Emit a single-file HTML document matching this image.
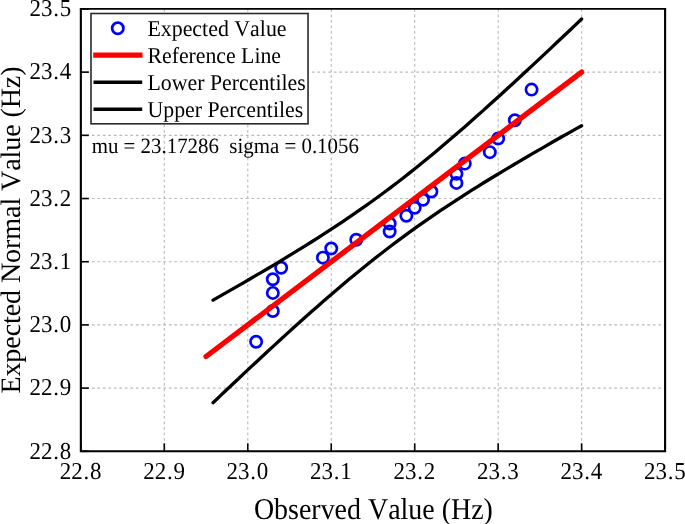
<!DOCTYPE html>
<html><head><meta charset="utf-8"><title>Normal probability plot</title>
<style>
html,body{margin:0;padding:0;background:#fff;}
svg{display:block;text-rendering:geometricPrecision;font-family:"Liberation Serif","Times New Roman",serif;fill:#000;}
.tk{font-size:24.3px;}
.ax{font-size:30.2px;font-kerning:none;}
.lg{font-size:22.7px;font-kerning:none;}
.mu{font-size:21.8px;}
.ay{font-size:28.1px;font-kerning:none;}
</style></head><body>
<svg width="685" height="524" viewBox="0 0 685 524">
<rect x="0" y="0" width="685" height="524" fill="#fff"/>
<g stroke="#b9b9b9" stroke-width="1.1" stroke-dasharray="2.7 2.8" fill="none">
<line x1="164.31" y1="8.95" x2="164.31" y2="451.30"/>
<line x1="247.78" y1="8.95" x2="247.78" y2="451.30"/>
<line x1="331.24" y1="8.95" x2="331.24" y2="451.30"/>
<line x1="414.71" y1="8.95" x2="414.71" y2="451.30"/>
<line x1="498.17" y1="8.95" x2="498.17" y2="451.30"/>
<line x1="581.64" y1="8.95" x2="581.64" y2="451.30"/>
<line x1="80.85" y1="388.11" x2="665.10" y2="388.11"/>
<line x1="80.85" y1="324.91" x2="665.10" y2="324.91"/>
<line x1="80.85" y1="261.72" x2="665.10" y2="261.72"/>
<line x1="80.85" y1="198.53" x2="665.10" y2="198.53"/>
<line x1="80.85" y1="135.34" x2="665.10" y2="135.34"/>
<line x1="80.85" y1="72.14" x2="665.10" y2="72.14"/>
</g>
<g stroke="#0000ff" stroke-width="2.7" fill="none">
<circle cx="256.13" cy="341.77" r="5.65"/>
<circle cx="272.82" cy="311.05" r="5.65"/>
<circle cx="272.82" cy="292.92" r="5.65"/>
<circle cx="272.82" cy="279.20" r="5.65"/>
<circle cx="281.16" cy="267.74" r="5.65"/>
<circle cx="322.90" cy="257.65" r="5.65"/>
<circle cx="331.24" cy="248.43" r="5.65"/>
<circle cx="356.28" cy="239.81" r="5.65"/>
<circle cx="389.67" cy="231.57" r="5.65"/>
<circle cx="389.67" cy="223.57" r="5.65"/>
<circle cx="406.36" cy="215.68" r="5.65"/>
<circle cx="414.71" cy="207.79" r="5.65"/>
<circle cx="423.05" cy="199.79" r="5.65"/>
<circle cx="431.40" cy="191.55" r="5.65"/>
<circle cx="456.44" cy="182.92" r="5.65"/>
<circle cx="456.44" cy="173.71" r="5.65"/>
<circle cx="464.79" cy="163.62" r="5.65"/>
<circle cx="489.82" cy="152.16" r="5.65"/>
<circle cx="498.17" cy="138.44" r="5.65"/>
<circle cx="514.86" cy="120.30" r="5.65"/>
<circle cx="531.56" cy="89.59" r="5.65"/>
</g>
<polyline points="213.06,402.68 219.20,396.84 225.34,391.02 231.49,385.22 237.63,379.43 243.77,373.66 249.92,367.91 256.06,362.18 262.20,356.47 268.34,350.79 274.49,345.13 280.63,339.50 286.77,333.89 292.92,328.32 299.06,322.79 305.20,317.29 311.34,311.83 317.49,306.41 323.63,301.04 329.77,295.72 335.92,290.44 342.06,285.22 348.20,280.06 354.35,274.96 360.49,269.92 366.63,264.95 372.77,260.04 378.92,255.20 385.06,250.44 391.20,245.74 397.35,241.11 403.49,236.56 409.63,232.08 415.78,227.66 421.92,223.32 428.06,219.04 434.20,214.82 440.35,210.66 446.49,206.56 452.63,202.52 458.78,198.53 464.92,194.58 471.06,190.69 477.21,186.83 483.35,183.02 489.49,179.24 495.63,175.50 501.78,171.79 507.92,168.12 514.06,164.47 520.21,160.84 526.35,157.24 532.49,153.66 538.63,150.11 544.78,146.57 550.92,143.05 557.06,139.55 563.21,136.06 569.35,132.59 575.49,129.13 581.64,125.69" fill="none" stroke="#000" stroke-width="3.3" stroke-linecap="round" stroke-linejoin="round"/>
<polyline points="213.06,300.11 219.20,296.63 225.34,293.14 231.49,289.64 237.63,286.11 243.77,282.57 249.92,279.01 256.06,275.43 262.20,271.83 268.34,268.21 274.49,264.56 280.63,260.88 286.77,257.17 292.92,253.43 299.06,249.66 305.20,245.85 311.34,242.00 317.49,238.11 323.63,234.18 329.77,230.19 335.92,226.16 342.06,222.07 348.20,217.93 354.35,213.73 360.49,209.46 366.63,205.13 372.77,200.73 378.92,196.27 385.06,191.73 391.20,187.13 397.35,182.45 403.49,177.70 409.63,172.88 415.78,168.00 421.92,163.05 428.06,158.03 434.20,152.95 440.35,147.80 446.49,142.61 452.63,137.35 458.78,132.05 464.92,126.69 471.06,121.29 477.21,115.85 483.35,110.37 489.49,104.85 495.63,99.29 501.78,93.71 507.92,88.09 514.06,82.45 520.21,76.78 526.35,71.08 532.49,65.37 538.63,59.63 544.78,53.87 550.92,48.10 557.06,42.31 563.21,36.50 569.35,30.68 575.49,24.84 581.64,19.00" fill="none" stroke="#000" stroke-width="3.3" stroke-linecap="round" stroke-linejoin="round"/>
<line x1="206.05" y1="356.51" x2="581.64" y2="72.14" stroke="#ff0000" stroke-width="5.3" stroke-linecap="round"/>
<path d="M80.85 8.95V451.30H665.10V8.95" fill="none" stroke="#000" stroke-width="2.1" stroke-linejoin="miter"/>
<line x1="79.80" y1="8.95" x2="666.15" y2="8.95" stroke="#000" stroke-width="1.8"/>
<g stroke="#000" stroke-width="1.6">
<line x1="80.85" y1="451.30" x2="80.85" y2="443.30"/>
<line x1="80.85" y1="451.30" x2="88.85" y2="451.30"/>
<line x1="164.31" y1="451.30" x2="164.31" y2="443.30"/>
<line x1="80.85" y1="388.11" x2="88.85" y2="388.11"/>
<line x1="247.78" y1="451.30" x2="247.78" y2="443.30"/>
<line x1="80.85" y1="324.91" x2="88.85" y2="324.91"/>
<line x1="331.24" y1="451.30" x2="331.24" y2="443.30"/>
<line x1="80.85" y1="261.72" x2="88.85" y2="261.72"/>
<line x1="414.71" y1="451.30" x2="414.71" y2="443.30"/>
<line x1="80.85" y1="198.53" x2="88.85" y2="198.53"/>
<line x1="498.17" y1="451.30" x2="498.17" y2="443.30"/>
<line x1="80.85" y1="135.34" x2="88.85" y2="135.34"/>
<line x1="581.64" y1="451.30" x2="581.64" y2="443.30"/>
<line x1="80.85" y1="72.14" x2="88.85" y2="72.14"/>
<line x1="665.10" y1="451.30" x2="665.10" y2="443.30"/>
<line x1="80.85" y1="8.95" x2="88.85" y2="8.95"/>
</g>
<g class="tk" text-anchor="middle">
<text transform="translate(80.55 479.4) scale(0.9456 1)">22<tspan dx="0.8">.</tspan><tspan dx="0.8">8</tspan></text>
<text transform="translate(164.01 479.4) scale(0.9456 1)">22<tspan dx="0.8">.</tspan><tspan dx="0.8">9</tspan></text>
<text transform="translate(247.48 479.4) scale(0.9456 1)">23<tspan dx="0.8">.</tspan><tspan dx="0.8">0</tspan></text>
<text transform="translate(330.94 479.4) scale(0.9456 1)">23<tspan dx="0.8">.</tspan><tspan dx="0.8">1</tspan></text>
<text transform="translate(414.41 479.4) scale(0.9456 1)">23<tspan dx="0.8">.</tspan><tspan dx="0.8">2</tspan></text>
<text transform="translate(497.87 479.4) scale(0.9456 1)">23<tspan dx="0.8">.</tspan><tspan dx="0.8">3</tspan></text>
<text transform="translate(581.34 479.4) scale(0.9456 1)">23<tspan dx="0.8">.</tspan><tspan dx="0.8">4</tspan></text>
<text transform="translate(664.80 479.4) scale(0.9456 1)">23<tspan dx="0.8">.</tspan><tspan dx="0.8">5</tspan></text>
</g>
<g class="tk" text-anchor="end">
<text transform="translate(71.3 458.60) scale(0.9456 1)">22<tspan dx="0.8">.</tspan><tspan dx="0.8">8</tspan></text>
<text transform="translate(71.3 395.41) scale(0.9456 1)">22<tspan dx="0.8">.</tspan><tspan dx="0.8">9</tspan></text>
<text transform="translate(71.3 332.21) scale(0.9456 1)">23<tspan dx="0.8">.</tspan><tspan dx="0.8">0</tspan></text>
<text transform="translate(71.3 269.02) scale(0.9456 1)">23<tspan dx="0.8">.</tspan><tspan dx="0.8">1</tspan></text>
<text transform="translate(71.3 205.83) scale(0.9456 1)">23<tspan dx="0.8">.</tspan><tspan dx="0.8">2</tspan></text>
<text transform="translate(71.3 142.64) scale(0.9456 1)">23<tspan dx="0.8">.</tspan><tspan dx="0.8">3</tspan></text>
<text transform="translate(71.3 79.44) scale(0.9456 1)">23<tspan dx="0.8">.</tspan><tspan dx="0.8">4</tspan></text>
<text transform="translate(71.3 16.25) scale(0.9456 1)">23<tspan dx="0.8">.</tspan><tspan dx="0.8">5</tspan></text>
</g>
<text class="ax" x="253.9" y="518.6" textLength="239" lengthAdjust="spacingAndGlyphs">Observed Value (Hz)</text>
<text class="ay" transform="translate(20.1 393.6) rotate(-90)" textLength="327.2" lengthAdjust="spacing">Expected Normal Value (Hz)</text>
<rect x="91" y="13.5" width="217.05" height="110.3" fill="#fff" stroke="#2a2a2a" stroke-width="1.6"/>
<circle cx="117.8" cy="28.3" r="5.65" fill="none" stroke="#0000ff" stroke-width="2.7"/>
<line x1="93.2" y1="55.1" x2="142.5" y2="55.1" stroke="#ff0000" stroke-width="5.4"/>
<line x1="93.5" y1="82.2" x2="142.2" y2="82.2" stroke="#000" stroke-width="3.4"/>
<line x1="93.5" y1="109.2" x2="142.2" y2="109.2" stroke="#000" stroke-width="3.4"/>
<g class="lg">
<text x="147.4" y="35.9" textLength="139.2" lengthAdjust="spacingAndGlyphs">Expected Value</text>
<text x="147.5" y="62.9" textLength="133.5" lengthAdjust="spacingAndGlyphs">Reference Line</text>
<text x="147.5" y="89.8" textLength="158.2" lengthAdjust="spacingAndGlyphs">Lower Percentiles</text>
<text x="147.5" y="116.8" textLength="155.7" lengthAdjust="spacingAndGlyphs">Upper Percentiles</text>
</g>
<text class="mu" x="91.7" y="153" textLength="267.2" lengthAdjust="spacingAndGlyphs" xml:space="preserve">mu = 23.17286  sigma = 0.1056</text>
</svg></body></html>
